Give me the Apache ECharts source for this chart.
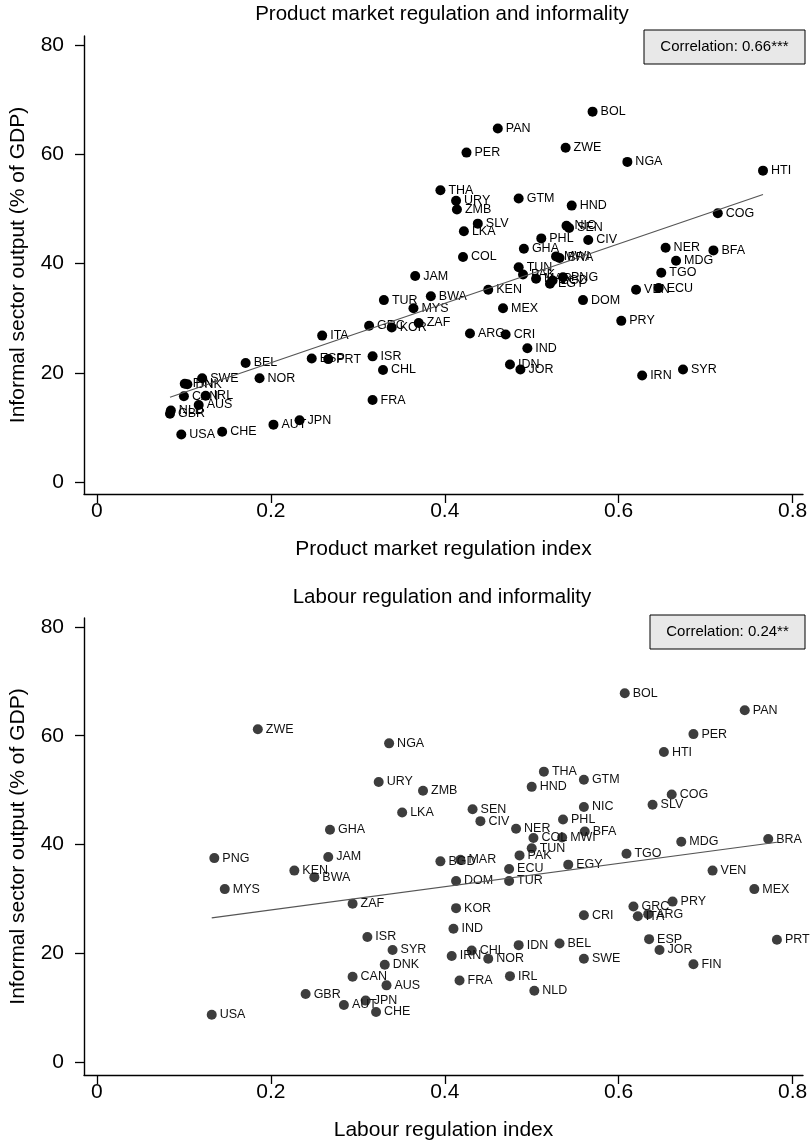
<!DOCTYPE html>
<html><head><meta charset="utf-8">
<script src="https://cdn.jsdelivr.net/npm/echarts@6/dist/echarts.min.js"></script>
<style>html,body{margin:0;padding:0;background:#fff}#c{width:812px;height:1142px}</style>
</head><body><div id="c"></div>
<script>
const countries = ['BOL','PAN','PER','ZWE','NGA','HTI','THA','URY','ZMB','GTM','HND','COG','SLV','LKA','NIC','SEN','PHL','CIV','GHA','NER','BFA','COL','MWI','BRA','MDG','JAM','TUN','PAK','TGO','MAR','BGD','PNG','EGY','KEN','BWA','ECU','VEN','MYS','DOM','TUR','MEX','ZAF','PRY','KOR','GRC','ARG','ITA','CRI','IND','ISR','SYR','IDN','BEL','ESP','PRT','JOR','CHL','IRN','NOR','SWE','DNK','FIN','CAN','IRL','AUS','FRA','GBR','NLD','AUT','JPN','CHE','USA'];
const informal = [67.8,64.7,60.3,61.2,58.6,57.0,53.4,51.5,49.9,51.9,50.6,49.2,47.3,45.9,46.9,46.5,44.6,44.3,42.7,42.9,42.4,41.2,41.3,41.0,40.5,37.7,39.3,38.0,38.3,37.2,36.9,37.5,36.3,35.2,34.0,35.5,35.2,31.8,33.3,33.3,31.8,29.1,29.5,28.3,28.6,27.2,26.8,27.0,24.5,23.0,20.6,21.5,21.8,22.6,22.5,20.6,20.5,19.5,19.0,19.0,17.9,18.0,15.7,15.8,14.1,15.0,12.5,13.1,10.5,11.3,9.2,8.7];
const pmr = [0.570,0.461,0.425,0.539,0.610,0.766,0.395,0.413,0.414,0.485,0.546,0.714,0.438,0.422,0.540,0.543,0.511,0.565,0.491,0.654,0.709,0.421,0.528,0.532,0.666,0.366,0.485,0.490,0.649,0.505,0.524,0.536,0.521,0.450,0.384,0.646,0.620,0.364,0.559,0.330,0.467,0.370,0.603,0.339,0.313,0.429,0.259,0.470,0.495,0.317,0.674,0.475,0.171,0.247,0.266,0.487,0.329,0.627,0.187,0.121,0.104,0.101,0.100,0.125,0.117,0.317,0.084,0.085,0.203,0.233,0.144,0.097];
const labour = [0.607,0.745,0.686,0.185,0.336,0.652,0.514,0.324,0.375,0.560,0.500,0.661,0.639,0.351,0.560,0.432,0.536,0.441,0.268,0.482,0.561,0.502,0.535,0.772,0.672,0.266,0.500,0.486,0.609,0.418,0.395,0.135,0.542,0.227,0.250,0.474,0.708,0.147,0.413,0.474,0.756,0.294,0.662,0.413,0.617,0.634,0.622,0.560,0.410,0.311,0.340,0.485,0.532,0.635,0.782,0.647,0.431,0.408,0.450,0.560,0.331,0.686,0.294,0.475,0.333,0.417,0.240,0.503,0.284,0.309,0.321,0.132];
const xTicks = [0, 0.2, 0.4, 0.6, 0.8];
const yTicks = [0, 20, 40, 60, 80];
const panelTitles = ['Product market regulation and informality', 'Labour regulation and informality'];
const xNames = ['Product market regulation index', 'Labour regulation index'];
const yName = 'Informal sector output (% of GDP)';
const corrLabels = ['Correlation: 0.66***', 'Correlation: 0.24**'];

const FONT = 'Liberation Sans, Arial, sans-serif';

function ols(xs, ys) {
  const n = xs.length;
  const mx = xs.reduce((a, b) => a + b, 0) / n;
  const my = ys.reduce((a, b) => a + b, 0) / n;
  let sxy = 0, sxx = 0;
  for (let i = 0; i < n; i++) { sxy += (xs[i] - mx) * (ys[i] - my); sxx += (xs[i] - mx) ** 2; }
  const b = sxy / sxx, a = my - b * mx;
  const lo = Math.min(...xs), hi = Math.max(...xs);
  return [[lo, a + b * lo], [hi, a + b * hi]];
}

const grids = [
  { left: 82, top: 36, width: 721, height: 458 },
  { left: 82, top: 618, width: 721, height: 459 }
];
const yRanges = [[-2.197, 81.65], [-2.38, 81.65]];

function xAx(gi) {
  return {
    type: 'value', gridIndex: gi, min: -0.0149, max: 0.812,
    name: xNames[gi], nameLocation: 'middle', nameGap: 45,
    nameTextStyle: { fontSize: 21, color: '#000', fontFamily: FONT },
    axisLine: { show: true, onZero: false, lineStyle: { color: '#000', width: 1.4 } },
    axisTick: { show: true, length: 9, customValues: xTicks, lineStyle: { color: '#000', width: 1.3 } },
    axisLabel: { customValues: xTicks, fontSize: 21, color: '#000', margin: 7, fontFamily: FONT, formatter: v => String(v) },
    splitLine: { show: false }
  };
}
function yAx(gi) {
  return {
    type: 'value', gridIndex: gi, min: yRanges[gi][0], max: yRanges[gi][1],
    name: yName, nameLocation: 'middle', nameGap: 55, nameRotate: 90,
    nameTextStyle: { fontSize: 21, color: '#000', fontFamily: FONT },
    axisLine: { show: true, onZero: false, lineStyle: { color: '#000', width: 1.4 } },
    axisTick: { show: true, length: 9, customValues: yTicks, lineStyle: { color: '#000', width: 1.3 } },
    axisLabel: { customValues: yTicks, fontSize: 21, color: '#000', margin: 20, fontFamily: FONT, formatter: v => String(v) },
    splitLine: { show: false }
  };
}

function scatter(gi, xs, dotColor, labelColor) {
  return {
    type: 'scatter', xAxisIndex: gi, yAxisIndex: gi, symbolSize: 10,
    itemStyle: { color: dotColor, opacity: 1 },
    data: countries.map((c, i) => [xs[i], informal[i], c]),
    label: { show: true, position: 'right', distance: 3, fontSize: 12.5, color: labelColor, fontFamily: FONT, formatter: p => p.data[2] },
    silent: true, z: 3
  };
}
function fit(gi, xs) {
  return {
    type: 'line', xAxisIndex: gi, yAxisIndex: gi, data: ols(xs, informal),
    showSymbol: false, symbol: 'none', lineStyle: { color: '#555', width: 1.2 }, silent: true, z: 4
  };
}

function corrBox(x0, y0, w, h, text) {
  return {
    type: 'group', children: [
      { type: 'rect', shape: { x: x0, y: y0, width: w, height: h }, style: { fill: '#e8e8e8', stroke: '#000', lineWidth: 1 } },
      { type: 'text', style: { x: x0 + w / 2, y: y0 + h / 2, text: text, fontSize: 15, fontFamily: FONT, fill: '#000', align: 'center', verticalAlign: 'middle' } }
    ]
  };
}

const chart = echarts.init(document.getElementById('c'), null, { renderer: 'canvas' });
chart.setOption({
  animation: false,
  backgroundColor: '#fff',
  textStyle: { fontFamily: FONT },
  grid: grids,
  xAxis: [xAx(0), xAx(1)],
  yAxis: [yAx(0), yAx(1)],
  series: [
    scatter(0, pmr, '#000', '#000'), fit(0, pmr),
    scatter(1, labour, '#3d3d3d', '#111'), fit(1, labour)
  ],
  graphic: [
    { type: 'text', style: { x: 442, y: 14, text: panelTitles[0], fontSize: 20.5, fontFamily: FONT, fill: '#000', align: 'center', verticalAlign: 'middle' } },
    { type: 'text', style: { x: 442, y: 597, text: panelTitles[1], fontSize: 20.5, fontFamily: FONT, fill: '#000', align: 'center', verticalAlign: 'middle' } },
    corrBox(644, 30, 161, 34, corrLabels[0]),
    corrBox(650, 615, 155, 34, corrLabels[1])
  ]
});
</script></body></html>
